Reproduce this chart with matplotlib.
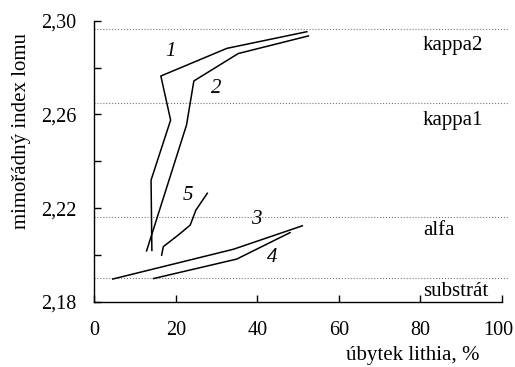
import matplotlib
matplotlib.use("Agg")
import matplotlib.pyplot as plt
from matplotlib.transforms import ScaledTranslation

plt.rcParams['font.family'] = ['Liberation Serif', 'DejaVu Serif']

# Extraordinary refractive index vs. lithium loss for five samples
c1_x = [52.1, 32.5, 16.3, 18.7, 13.9, 14.1]
c1_y = [2.2953, 2.2882, 2.2764, 2.2576, 2.2320, 2.2020]
c2_x = [52.5, 35.3, 24.4, 22.6, 12.8]
c2_y = [2.2935, 2.2860, 2.2743, 2.2555, 2.2018]
c3_x = [4.5, 34.1, 51.0]
c3_y = [2.1898, 2.2025, 2.2125]
c4_x = [14.5, 34.9, 48.0]
c4_y = [2.1900, 2.1983, 2.2096]
c5_x = [16.5, 16.9, 20.6, 23.5, 24.9, 27.7]
c5_y = [2.2000, 2.2036, 2.2086, 2.2128, 2.2192, 2.2264]

curve_names = ['1', '2', '3', '4', '5']
label_x = [18.6, 30.0, 39.8, 43.5, 23.0]
label_y = [2.2868, 2.2712, 2.2153, 2.1991, 2.2256]

# Phase reference levels
phase_names = ['kappa2', 'kappa1', 'alfa', 'substrát']
phase_levels = [2.2963, 2.2648, 2.2161, 2.1904]
phase_text_y = [2.2896, 2.2576, 2.2107, 2.1844]

x_ticks = [0, 20, 40, 60, 80, 100]
y_ticks = [2.18, 2.20, 2.22, 2.24, 2.26, 2.28, 2.30]
y_ticklabels = ['2,18', '', '2,22', '', '2,26', '', '2,30']

fig = plt.figure(figsize=(5.15, 3.67), dpi=100)
ax = fig.add_axes([0.1833, 0.1771, 0.7915, 0.7665])

for lvl in phase_levels:
    ax.plot([0, 101.5], [lvl, lvl], ls=':', color='#777777', lw=0.8, clip_on=False)

for xs, ys in [(c1_x, c1_y), (c2_x, c2_y), (c3_x, c3_y), (c4_x, c4_y), (c5_x, c5_y)]:
    ax.plot(xs, ys, color='black', lw=1.1)

for name, lx, ly in zip(curve_names, label_x, label_y):
    ax.text(lx, ly, name, fontsize=15, style='italic', ha='center', va='center')

for name, ty in zip(phase_names, phase_text_y):
    ax.text(80.6, ty, name, fontsize=15, ha='left', va='center')

ax.set_xlim(0, 100)
ax.set_ylim(2.18, 2.30)
ax.set_xticks(x_ticks)
ax.set_yticks(y_ticks)
ax.set_yticklabels(y_ticklabels)
ax.tick_params(direction='in', length=5, width=1, labelsize=14.5)
ax.tick_params(axis='x', pad=14)
ax.tick_params(axis='y', pad=13)
for s in ['top', 'right']:
    ax.spines[s].set_visible(False)
for s in ['left', 'bottom']:
    ax.spines[s].set_linewidth(1.0)

# nudge the last x tick label so it stays inside the canvas
last = ax.get_xticklabels()[-1]
last.set_transform(last.get_transform() + ScaledTranslation(-3 / 72, 0, fig.dpi_scale_trans))

fig.text(0.802, 0.019, 'úbytek lithia, %', fontsize=15, ha='center', va='baseline')
fig.text(0.042, 0.642, 'mimořádný index lomu', fontsize=15, rotation=90,
         ha='center', va='center')

fig.savefig('out.png', dpi=100)
